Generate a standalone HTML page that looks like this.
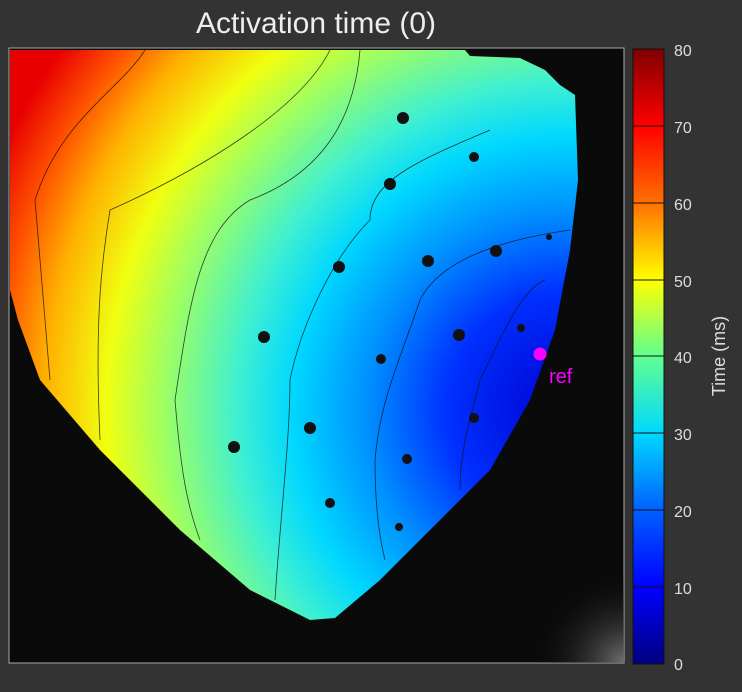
<!DOCTYPE html>
<html><head><style>
html,body{margin:0;padding:0;background:#333;width:742px;height:692px;overflow:hidden}
svg{display:block}
</style></head><body>
<svg width="742" height="692" xmlns="http://www.w3.org/2000/svg" font-family="Liberation Sans, sans-serif">
<defs>
<radialGradient id="g" gradientUnits="userSpaceOnUse" cx="565" cy="410" r="620">
<stop offset="0" stop-color="#0000d0"/>
<stop offset="0.19" stop-color="#0030ff"/>
<stop offset="0.32" stop-color="#0090ff"/>
<stop offset="0.44" stop-color="#00d8ff"/>
<stop offset="0.53" stop-color="#40f0d0"/>
<stop offset="0.65" stop-color="#a0ff60"/>
<stop offset="0.74" stop-color="#f0ff10"/>
<stop offset="0.84" stop-color="#ffb000"/>
<stop offset="0.92" stop-color="#ff5000"/>
<stop offset="1" stop-color="#e80000"/>
</radialGradient>
<radialGradient id="glow" cx="624" cy="663" r="90" gradientUnits="userSpaceOnUse">
<stop offset="0" stop-color="#707070"/><stop offset="1" stop-color="#0a0a0a" stop-opacity="0"/>
</radialGradient>
<linearGradient id="cb" x1="0" y1="1" x2="0" y2="0">
<stop offset="0" stop-color="#00007f"/>
<stop offset="0.125" stop-color="#0000ff"/>
<stop offset="0.25" stop-color="#0060ff"/>
<stop offset="0.375" stop-color="#00d8ff"/>
<stop offset="0.5" stop-color="#60ff90"/>
<stop offset="0.625" stop-color="#ffff00"/>
<stop offset="0.75" stop-color="#ff7000"/>
<stop offset="0.875" stop-color="#ff0000"/>
<stop offset="1" stop-color="#7f0000"/>
</linearGradient>
</defs>
<text x="316" y="33" font-size="30" fill="#eee" text-anchor="middle">Activation time (0)</text>
<rect x="9" y="48" width="615" height="615" fill="#0a0a0a" stroke="#aaa" stroke-width="1"/>
<rect x="9" y="48" width="615" height="615" fill="url(#glow)"/>
<path d="M10,50 L465,50 L470,56 L520,58 L545,70 L560,85 L575,95 L578,180 L570,250 L555,330 L530,400 L490,470 L440,520 L380,580 L335,618 L310,620 L250,590 L180,530 L100,450 L40,380 L18,320 L10,290 Z" fill="url(#g)"/>
<g fill="none" stroke="#111" stroke-width="0.8" opacity="0.8">
<path d="M145,50 C120,90 60,120 35,200 C40,260 45,320 50,380"/>
<path d="M330,50 C300,110 200,170 110,210 C100,270 95,330 100,440"/>
<path d="M360,50 C355,110 330,170 250,200 C200,230 190,300 175,400 C180,460 185,500 200,540"/>
<path d="M490,130 C420,160 370,180 370,220 C330,260 300,330 290,380 C290,440 280,520 275,600"/>
<path d="M570,230 C500,240 440,260 420,300 C400,360 380,400 375,460 C375,510 380,540 385,560"/>
<path d="M545,280 C520,290 500,340 480,380 C470,420 460,450 460,490"/>
</g>
<g fill="#111">
<circle cx="403" cy="118" r="6"/><circle cx="474" cy="157" r="5"/><circle cx="390" cy="184" r="6"/>
<circle cx="549" cy="237" r="3"/><circle cx="496" cy="251" r="6"/><circle cx="428" cy="261" r="6"/>
<circle cx="339" cy="267" r="6"/><circle cx="264" cy="337" r="6"/><circle cx="459" cy="335" r="6"/>
<circle cx="521" cy="328" r="4"/><circle cx="381" cy="359" r="5"/><circle cx="310" cy="428" r="6"/>
<circle cx="474" cy="418" r="5"/><circle cx="234" cy="447" r="6"/><circle cx="407" cy="459" r="5"/>
<circle cx="330" cy="503" r="5"/><circle cx="399" cy="527" r="4"/>
</g>
<circle cx="540" cy="354" r="6.5" fill="#ff00ff"/>
<text x="549" y="383" font-size="20" fill="#ff00ff">ref</text>
<rect x="633" y="49" width="31" height="615" fill="url(#cb)" stroke="#111" stroke-width="1"/>
<g stroke="#111" stroke-width="1">
<line x1="633" y1="126" x2="664" y2="126"/><line x1="633" y1="203" x2="664" y2="203"/>
<line x1="633" y1="280" x2="664" y2="280"/><line x1="633" y1="356" x2="664" y2="356"/>
<line x1="633" y1="433" x2="664" y2="433"/><line x1="633" y1="510" x2="664" y2="510"/>
<line x1="633" y1="587" x2="664" y2="587"/>
</g>
<g font-size="16" fill="#ddd">
<text x="674" y="56">80</text><text x="674" y="133">70</text><text x="674" y="210">60</text>
<text x="674" y="287">50</text><text x="674" y="363">40</text><text x="674" y="440">30</text>
<text x="674" y="517">20</text><text x="674" y="594">10</text><text x="674" y="670">0</text>
</g>
<text transform="translate(725,356) rotate(-90)" font-size="18" fill="#ddd" text-anchor="middle">Time (ms)</text>
</svg>
</body></html>
